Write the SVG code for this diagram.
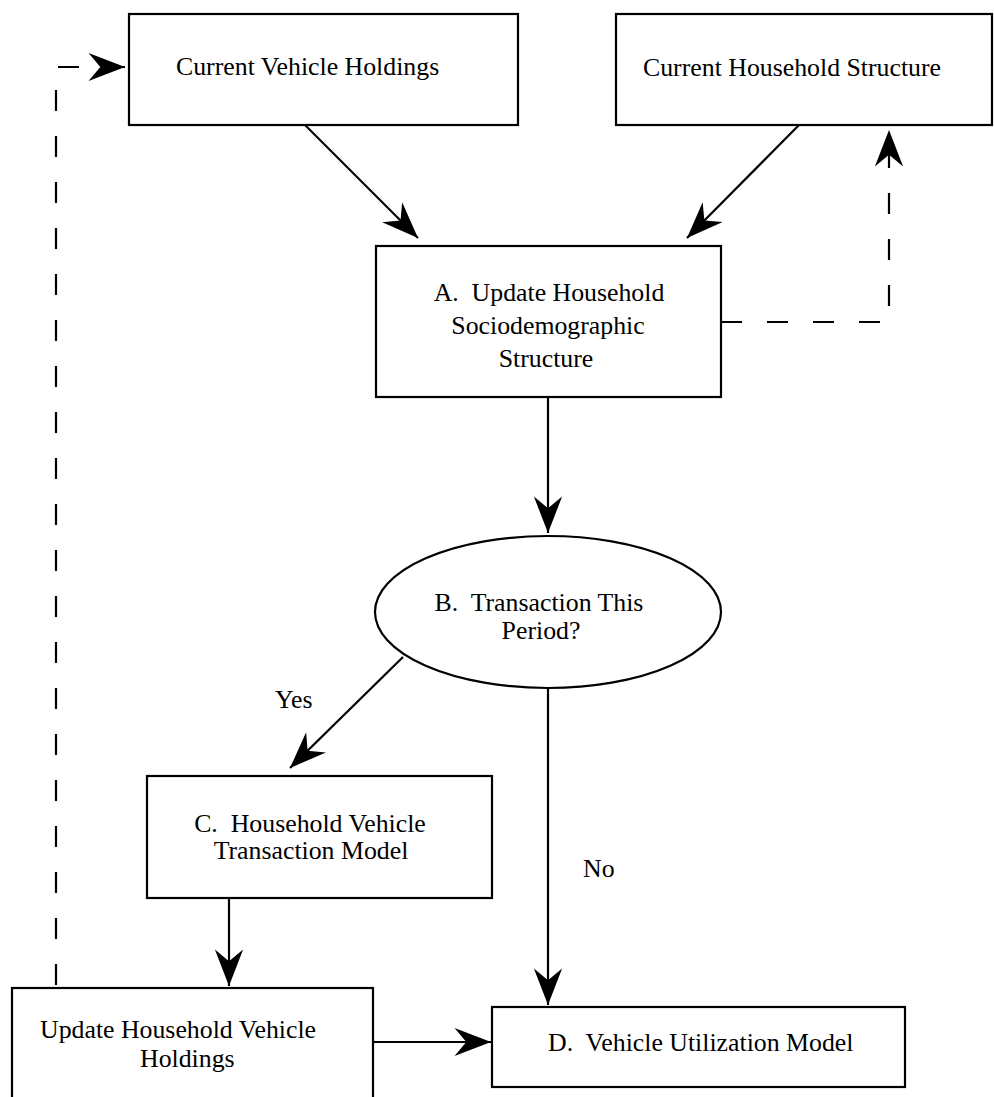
<svg xmlns="http://www.w3.org/2000/svg" width="994" height="1097" viewBox="0 0 994 1097">
<style>
.box{fill:#fff;stroke:#000;stroke-width:2.2}
.t{font-family:"Liberation Serif","Times New Roman",serif;font-size:25.8px;fill:#000}
.c{text-anchor:middle}
.ln{fill:none;stroke:#000;stroke-width:2.2}
.ds{stroke-dasharray:21 25}
</style>
<defs>
<marker id="ah" markerUnits="userSpaceOnUse" markerWidth="40" markerHeight="40" viewBox="-32 -14 34 28" refX="0" refY="0" orient="auto" overflow="visible">
<path d="M0,0 L-31,-12 L-21,0 L-31,12 Z" fill="#000"/>
</marker>
</defs>
<rect width="994" height="1097" fill="#fff"/>
<g id="connectors">
<line class="ln" x1="305" y1="125" x2="418" y2="238" marker-end="url(#ah)"/>
<line class="ln" x1="799" y1="125" x2="687" y2="238" marker-end="url(#ah)"/>
<line class="ln" x1="548" y1="397" x2="548" y2="533" marker-end="url(#ah)"/>
<line class="ln" x1="403" y1="657" x2="290" y2="768" marker-end="url(#ah)"/>
<line class="ln" x1="548" y1="689" x2="548" y2="1005" marker-end="url(#ah)"/>
<line class="ln" x1="229" y1="898" x2="229" y2="986" marker-end="url(#ah)"/>
<line class="ln" x1="373" y1="1042" x2="491" y2="1042" marker-end="url(#ah)"/>
<polyline class="ln ds" points="721,322 889,322 889,130" marker-end="url(#ah)"/>
<polyline class="ln ds" points="56,985 56,67 125,67" marker-end="url(#ah)"/>
</g>
<g id="current-vehicle-holdings">
<rect class="box" x="129" y="14" width="389" height="111"/>
<text class="t" x="176" y="75">Current Vehicle Holdings</text>
</g>
<g id="current-household-structure">
<rect class="box" x="616" y="14" width="376" height="111"/>
<text class="t" x="643" y="76">Current Household Structure</text>
</g>
<g id="node-a">
<rect class="box" x="376" y="246" width="345" height="151"/>
<text class="t c" x="549" y="301">A.&#160; Update Household</text>
<text class="t c" x="548" y="334">Sociodemographic</text>
<text class="t c" x="546" y="367">Structure</text>
</g>
<g id="node-b">
<ellipse class="box" cx="548" cy="612" rx="173" ry="76"/>
<text class="t c" x="539" y="611">B.&#160; Transaction This</text>
<text class="t c" x="541" y="639">Period?</text>
</g>
<g id="node-c">
<rect class="box" x="147" y="776" width="345" height="122"/>
<text class="t c" x="310" y="832">C.&#160; Household Vehicle</text>
<text class="t c" x="311" y="859">Transaction Model</text>
</g>
<g id="update-holdings">
<rect class="box" x="12" y="988" width="361" height="130"/>
<text class="t" x="40" y="1038">Update Household Vehicle</text>
<text class="t" x="140" y="1067">Holdings</text>
</g>
<g id="node-d">
<rect class="box" x="492" y="1007" width="413" height="80"/>
<text class="t" x="548" y="1051">D.&#160; Vehicle Utilization Model</text>
</g>
<g id="labels">
<text class="t" x="275" y="708">Yes</text>
<text class="t" x="583" y="877">No</text>
</g>
</svg>
